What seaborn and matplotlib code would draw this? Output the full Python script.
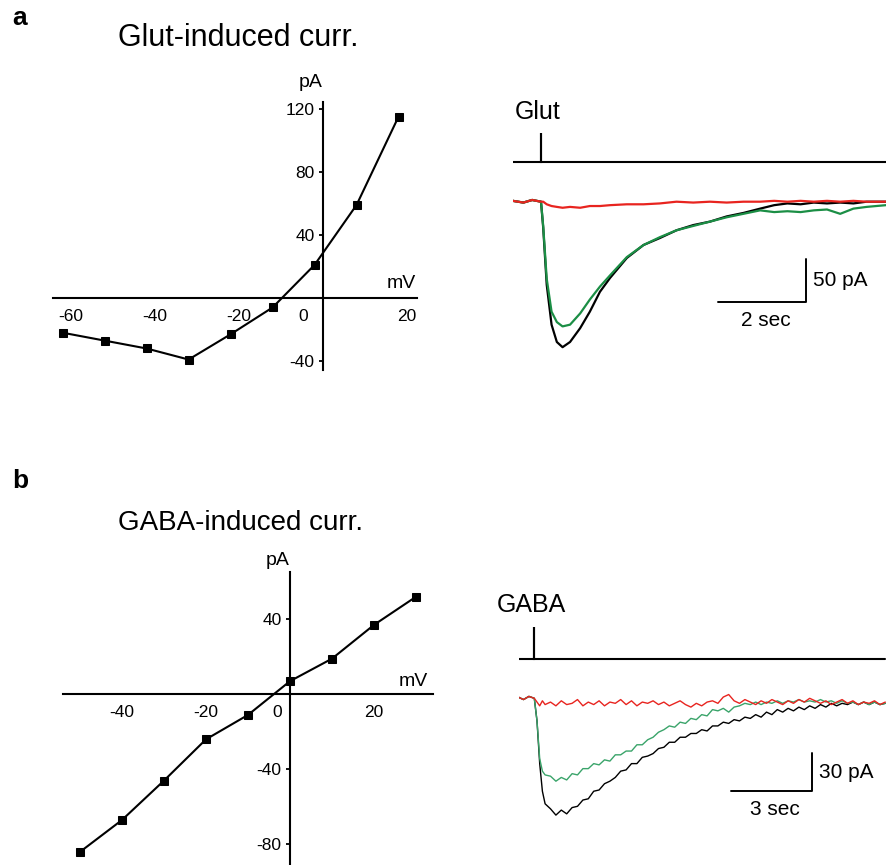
import matplotlib
matplotlib.use("Agg")
import matplotlib.pyplot as plt
import seaborn as sns

# ---- data ----
# panel a, I-V of glutamate induced current
glut_mv = [-62, -52, -42, -32, -22, -12, -2, 8, 18]
glut_pa = [-22, -27, -32, -39, -23, -6, 21, 59, 115]

# panel b, I-V of GABA induced current
gaba_mv = [-50, -40, -30, -20, -10, 0, 10, 20, 30]
gaba_pa = [-84, -67, -46, -24, -11, 7, 19, 37, 52]

# glutamate traces (sec, pA)
glut_t = [-0.64, -0.4, -0.2, 0.0, 0.05, 0.13, 0.24, 0.36, 0.49, 0.66, 0.89, 1.11,
          1.34, 1.57, 1.95, 2.33, 2.7, 3.08, 3.46, 3.84, 4.22, 4.6, 4.98, 5.3,
          5.6, 5.9, 6.2, 6.5, 6.8, 7.1, 7.4, 7.84]
glut_black = [1, -1, 2, 0, -30, -96, -142, -162, -168, -162, -146, -127,
              -104, -88, -65, -50, -42, -33, -27, -23, -17, -13, -8, -4,
              -2, -3, -1, -2, -1, -2, 0, 0]
glut_green = [1, -1, 2, 0, -28, -89, -127, -139, -144, -142, -129, -113,
              -98, -85, -64, -50, -41, -33, -28, -23, -18, -14, -10, -12,
              -11, -12, -10, -9, -14, -8, -6, -4]
glut_red = [1, -1, 2, 0, 0, -3, -5, -6, -7, -6, -7, -5,
            -5, -4, -3, -3, -2, 0, -1, 0, -1, 0, 0, 1,
            0, 1, 0, 1, 0, 1, 0, 0]
glut_stim_t = [-0.64, 0, 0, 0, 7.84]
glut_stim_y = [45.5, 45.5, 79, 45.5, 45.5]
glut_bar = {"t": 6.02, "y": -116, "dt": 2, "dy": 50}

# GABA traces (sec, pA)
gaba_t = [-0.6, -0.4, -0.2, 0.0, 0.1, 0.2, 0.3, 0.4,
          0.6, 0.8, 1.0, 1.2, 1.4, 1.6, 1.8, 2.0, 2.2, 2.4,
          2.6, 2.8, 3.0, 3.2, 3.4, 3.6, 3.8, 4.0, 4.2, 4.4,
          4.6, 4.8, 5.0, 5.2, 5.4, 5.6, 5.8, 6.0, 6.2, 6.4,
          6.6, 6.8, 7.0, 7.2, 7.4, 7.6, 7.8, 8.0, 8.2, 8.4,
          8.6, 8.8, 9.0, 9.2, 9.4, 9.6, 9.8, 10.0, 10.2, 10.4,
          10.6, 10.8, 11.0, 11.2, 11.4, 11.6, 11.8, 12.0, 12.2, 12.4,
          12.6, 12.8, 13.0]
gaba_black = [1, -1, 1.5, 0, -18, -52, -74, -84,
              -88, -93, -89, -92, -87, -86, -81, -80, -74, -73,
              -68, -66, -63, -58, -57, -52, -52, -47, -46, -44,
              -40, -39, -35, -35, -31, -31, -28, -28, -25, -26,
              -22, -22, -19, -20, -17, -18, -15, -16, -13, -15,
              -11, -13, -9, -11, -8, -10, -7, -9, -6, -8,
              -5, -7, -4, -6, -4, -5, -3, -5, -3, -5,
              -3, -5, -4]
gaba_green = [1, -1, 1.5, 0, -18, -48, -58, -61,
              -62, -66, -63, -65, -60, -61, -56, -56, -52, -53,
              -49, -50, -45, -45, -42, -42, -37, -37, -33, -31,
              -27, -25, -22, -23, -19, -20, -16, -17, -13, -14,
              -9, -10, -8, -11, -7, -6, -4, -5, -3, -5,
              -3, -4, -2, -4, -2, -3, -1, -3, -2, -3,
              -1, -3, -2, -4, -2, -4, -3, -5, -3, -5,
              -3, -5, -4]
gaba_red = [1, -1, 1.5, 0, -3, -6, -2, -5,
            -3, -6, -2, -5, -4, -1, -6, -3, -5, -2,
            -6, -3, -4, -1, -5, -2, -6, -3, -4, -2,
            -5, -3, -6, -4, -2, -5, -7, -4, -6, -3,
            -2, -4, 1, 3, -2, -4, -1, -3, -5, -2,
            -4, -1, -3, -5, -2, -4, -1, -3, 0, -2,
            -4, -2, -5, -3, -1, -4, -2, -5, -3, -4,
            -2, -5, -3]
gaba_stim_t = [-0.57, 0, 0, 0, 13.0]
gaba_stim_y = [31.3, 31.3, 57, 31.3, 31.3]
gaba_bar = {"t": 10.27, "y": -73.8, "dt": 3, "dy": 30}

RED = "#e8241f"
GREEN_A = "#1b8e45"
GREEN_B = "#3aa46a"

sns.set_theme(style="white")
plt.rcParams["font.family"] = ["Liberation Sans", "DejaVu Sans"]
plt.rcParams["text.color"] = "black"
plt.rcParams["xtick.color"] = "black"
plt.rcParams["ytick.color"] = "black"

W, H = 886, 865
fig = plt.figure(figsize=(W / 100, H / 100), dpi=100)


def box(l, t, r, b):
    return [l / W, 1 - b / H, (r - l) / W, (b - t) / H]


def iv_axes(l, t, r, b, x0, y0, px_mv, px_pa):
    ax = fig.add_axes(box(l, t, r, b))
    ax.set_xlim((l - x0) / px_mv, (r - x0) / px_mv)
    ax.set_ylim((y0 - b) / px_pa, (y0 - t) / px_pa)
    ax.patch.set_visible(False)
    for s in ["top", "right"]:
        ax.spines[s].set_visible(False)
    for s in ["left", "bottom"]:
        ax.spines[s].set_position(("data", 0))
        ax.spines[s].set_linewidth(1.5)
        ax.spines[s].set_color("black")
    ax.tick_params(axis="y", direction="out", length=3, width=1.3, pad=3,
                   labelsize=12.5, left=True, colors="black")
    ax.tick_params(axis="x", length=0, pad=8, labelsize=12.5, colors="black")
    return ax


def trace_axes(l, t, r, b, t0, px_s, y0, px_pa):
    ax = fig.add_axes(box(l, t, r, b))
    ax.set_xlim((l - t0) / px_s, (r - t0) / px_s)
    ax.set_ylim((y0 - b) / px_pa, (y0 - t) / px_pa)
    ax.axis("off")
    return ax


def draw_iv(ax, mv, pa, xticks, yticks, zero_dx, pa_dy, mv_dx, mv_dy):
    sns.lineplot(x=mv, y=pa, ax=ax, color="black", lw=1.5, marker="s",
                 markersize=6, markeredgecolor="black", sort=False,
                 estimator=None)
    ax.set_xticks(xticks)
    ax.set_yticks(yticks)
    ax.set_xticklabels([str(v) for v in xticks])
    ax.set_yticklabels([str(v) for v in yticks])
    ax.set_xlabel("")
    ax.set_ylabel("")
    ax.annotate("0", xy=(0, 0), xytext=(zero_dx, -8), textcoords="offset points",
                ha="center", va="top", fontsize=12.5)
    ax.annotate("pA", xy=(0, 1), xycoords=("data", "axes fraction"),
                xytext=(0, pa_dy), textcoords="offset points",
                ha="right", va="center", fontsize=14)
    ax.annotate("mV", xy=(1, 0), xycoords=("axes fraction", "data"),
                xytext=(mv_dx, mv_dy), textcoords="offset points",
                ha="right", va="center", fontsize=14)


def draw_traces(ax, t, black, green, red, green_col, lw, stim_t, stim_y,
                drug, drug_off, bar, ylab, xlab):
    sns.lineplot(x=t, y=black, ax=ax, color="black", lw=lw, sort=False, estimator=None)
    sns.lineplot(x=t, y=green, ax=ax, color=green_col, lw=lw, sort=False, estimator=None)
    sns.lineplot(x=t, y=red, ax=ax, color=RED, lw=lw, sort=False, estimator=None)
    ax.plot(stim_t, stim_y, color="black", lw=1.5, solid_joinstyle="miter")
    ax.annotate(drug, xy=(0, max(stim_y)), xytext=drug_off, textcoords="offset points",
                ha="left", va="center", fontsize=18)
    bt, by = bar["t"], bar["y"]
    ax.plot([bt - bar["dt"], bt, bt], [by, by, by + bar["dy"]], color="black", lw=1.4)
    ax.annotate(ylab, xy=(bt, by + bar["dy"] / 2), xytext=(5, 0),
                textcoords="offset points", ha="left", va="center", fontsize=15)
    ax.annotate(xlab, xy=(bt - bar["dt"] / 2, by), xytext=(3, -13),
                textcoords="offset points", ha="center", va="center", fontsize=15)


# panel a
ax_a = iv_axes(53, 102, 417, 370, 323, 298, 4.2, 1.578)
draw_iv(ax_a, glut_mv, glut_pa, [-60, -40, -20, 20], [-40, 40, 80, 120],
        -14.4, 13.7, -1, 10.5)
tr_a = trace_axes(513, 98, 886, 360, 541, 44, 201.7, 0.866)
draw_traces(tr_a, glut_t, glut_black, glut_green, glut_red, GREEN_A, 1.6,
            glut_stim_t, glut_stim_y, "Glut", (-19, 15), glut_bar, "50 pA", "2 sec")

# panel b
ax_b = iv_axes(63, 572, 433, 865, 290, 694.3, 4.2, 1.876)
draw_iv(ax_b, gaba_mv, gaba_pa, [-40, -20, 20], [-80, -40, 40],
        -9.4, 8.6, -3.6, 9)
tr_b = trace_axes(519, 585, 886, 830, 534.3, 27, 698.3, 1.256)
draw_traces(tr_b, gaba_t, gaba_black, gaba_green, gaba_red, GREEN_B, 1.0,
            gaba_stim_t, gaba_stim_y, "GABA", (-27, 15.5), gaba_bar, "30 pA", "3 sec")

fig.text(12 / W, 1 - 25 / H, "a", fontsize=19, fontweight="bold", va="baseline")
fig.text(118 / W, 1 - 46 / H, "Glut-induced curr.", fontsize=22, va="baseline")
fig.text(12 / W, 1 - 488 / H, "b", fontsize=19, fontweight="bold", va="baseline")
fig.text(118 / W, 1 - 530 / H, "GABA-induced curr.", fontsize=20, va="baseline")

fig.savefig("out.png", dpi=100)
